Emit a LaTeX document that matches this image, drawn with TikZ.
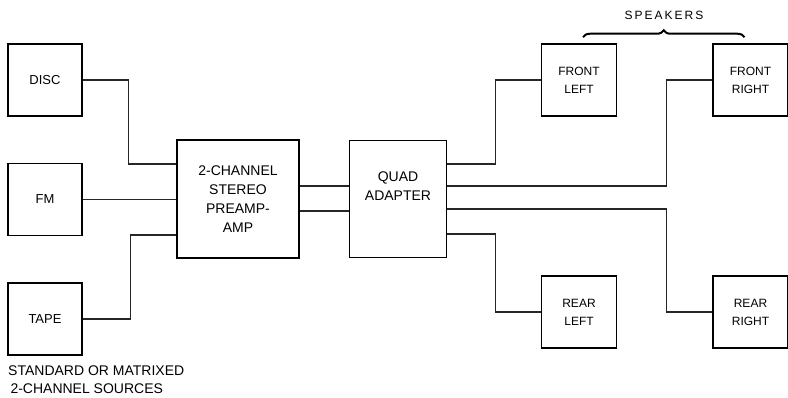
\documentclass[tikz,border=0pt]{standalone}
\usepackage{fontspec}
\setmainfont{Liberation Sans}
\usetikzlibrary{positioning, decorations.pathreplacing, calc}

\begin{document}
\begin{tikzpicture}[x=1pt, y=1pt, font=\fontsize{13}{19}\selectfont,
    blk/.style={draw, line width=1.5pt, align=center, inner sep=2pt},
    src/.style={blk, minimum width=74pt, minimum height=72pt},
    spk/.style={blk, minimum width=75pt, minimum height=72pt, font=\fontsize{12}{18}\selectfont},
    wire/.style={draw, line width=1.2pt, black!85}]
    \useasboundingbox (0,0) rectangle (788,398);
    \node[src] (disc) at (45,318) {DISC};
    \node[src, below=46pt of disc] (fm) {FM};
    \node[src, below=46pt of fm] (tape) {TAPE};
    \node[blk, minimum width=122pt, minimum height=118pt, font=\fontsize{14}{19}\selectfont] (pre) at (238,199) {2-CHANNEL\\STEREO\\PREAMP-\\AMP};
    \node[blk, minimum width=97pt, minimum height=117pt, right=49pt of pre, font=\fontsize{14}{19}\selectfont] (quad) {QUAD\\ADAPTER\\[6pt]};
    \node[spk] (fl) at (579,318) {FRONT\\LEFT};
    \node[spk, right=95pt of fl] (fr) {FRONT\\RIGHT};
    \node[spk] (rl) at (579,86) {REAR\\LEFT};
    \node[spk, right=95pt of rl] (rr) {REAR\\RIGHT};
    \node[font=\fontsize{12}{18}\selectfont] (spklbl) at (664,383) {S\,P\,E\,A\,K\,E\,R\,S};
    \node[anchor=north west, align=left, inner sep=0pt, font=\fontsize{14}{18}\selectfont] (srclbl) at (8,32) {STANDARD OR MATRIXED\\\,2-CHANNEL SOURCES};
    \draw[line width=2pt, decorate, decoration={brace, amplitude=7pt}] ([shift={(4pt,6pt)}]fl.north) -- ([shift={(-6pt,6pt)}]fr.north);
    \draw[wire] (disc.east) -- ++(46,0) |- ([yshift=35pt]pre.west);
    \draw[wire] (fm.east) -- (fm.east -| pre.west);
    \draw[wire] (tape.east) -- ++(48,0) |- ([yshift=-36pt]pre.west);
    \draw[wire] ([yshift=13pt]pre.east) -- ([yshift=13pt]pre.east -| quad.west);
    \draw[wire] ([yshift=-12pt]pre.east) -- ([yshift=-12pt]pre.east -| quad.west);
    \draw[wire] ([yshift=35pt]quad.east) -- ++(48,0) |- (fl.west);
    \draw[wire] ([yshift=13pt]quad.east) -- ++(219,0) |- (fr.west);
    \draw[wire] ([yshift=-10pt]quad.east) -- ++(219,0) |- (rr.west);
    \draw[wire] ([yshift=-35pt]quad.east) -- ++(48,0) |- (rl.west);
\end{tikzpicture}
\end{document}
